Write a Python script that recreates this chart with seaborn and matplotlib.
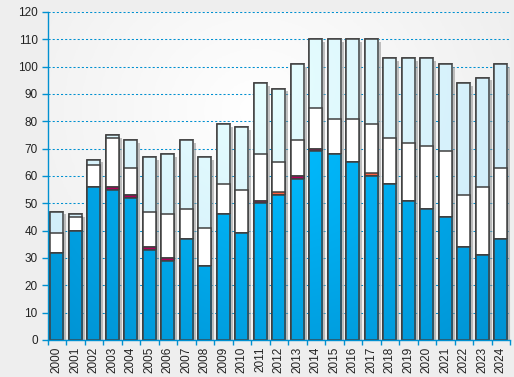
import numpy as np
import matplotlib
matplotlib.use('Agg')
import matplotlib.pyplot as plt
import matplotlib.patheffects as pe
from matplotlib.patches import Rectangle
from matplotlib.colors import to_rgb
import seaborn as sns

# data (segment heights, bottom to top)
years = [str(y) for y in range(2000, 2025)]
blue = [32, 40, 56, 55, 52, 33, 29, 37, 27, 46, 39, 50, 53, 59, 69, 68, 65, 60, 57, 51, 48, 45, 34, 31, 37]
crimson = [0, 0, 0, 1, 1, 1, 1, 0, 0, 0, 0, 1, 0, 1, 1, 0, 0, 0, 0, 0, 0, 0, 0, 0, 0]
orange = [0, 0, 0, 0, 0, 0, 0, 0, 0, 0, 0, 0, 1, 0, 0, 0, 0, 1, 0, 0, 0, 0, 0, 0, 0]
white = [7, 5, 8, 18, 10, 13, 16, 11, 14, 11, 16, 17, 11, 13, 15, 13, 16, 18, 17, 21, 23, 24, 19, 25, 26]
cyan = [8, 1, 2, 1, 10, 20, 22, 25, 26, 22, 23, 26, 27, 28, 25, 29, 29, 31, 29, 31, 32, 32, 41, 40, 38]

sns.set_style('white')
plt.rcParams['font.family'] = ['Liberation Sans', 'DejaVu Sans']

BLUE_LINE = '#0090d0'
EDGE = '#404040'

# cumulative tops, drawn from the tallest down so they overlap into stacks
c1 = np.array(blue)
c2 = c1 + np.array(crimson)
c3 = c2 + np.array(orange)
c4 = c3 + np.array(white)
c5 = c4 + np.array(cyan)

fig = plt.figure(figsize=(5.14, 3.77), dpi=100, facecolor='#eeeeee')
ax = fig.add_axes([47.5 / 514, 1 - 340 / 377, (510 - 47.5) / 514, (340 - 12) / 377])

XLIM = (-0.5, 24.5)
YLIM = (0, 120)


def radial(center, edge, cx=0.45, cy=0.8, sx=0.8, sy=1.15, n=120):
    u, v = np.meshgrid(np.linspace(0, 1, n), np.linspace(0, 1, n))
    t = np.clip(np.sqrt(((u - cx) / sx) ** 2 + ((v - cy) / sy) ** 2), 0, 1)[..., None]
    return np.array(to_rgb(center)) * (1 - t) + np.array(to_rgb(edge)) * t


# plot area background
ax.imshow(radial('#ffffff', '#eaeaea', cx=0.45, cy=0.7, sx=0.8, sy=1.0),
          extent=(*XLIM, *YLIM), origin='lower', aspect='auto', zorder=0)

layers = [
    (c5, '#e0ffff', 2, radial('#e8ffff', '#c8e6f8')),
    (c4, 'white', 3, None),
    (c3, '#ff6040', 4, None),
    (c2, '#b0005a', 5, None),
    (c1, '#00a8f0', 6, radial('#00bcff', '#008ccc', cx=0.5, cy=0.6, sx=0.8, sy=1.0)),
]

for vals, col, z, grad in layers:
    n0 = len(ax.patches)
    sns.barplot(x=years, y=vals, color=col, width=0.72, edgecolor=EDGE,
                linewidth=1.1, errorbar=None, zorder=z, ax=ax)
    patches = ax.patches[n0:]
    for p in patches:
        p.set_facecolor(col)
        if z == 2:
            p.set_path_effects([pe.SimplePatchShadow(offset=(2.0, -2.0),
                                                     shadow_rgbFace='#909090', alpha=0.55),
                                pe.Normal()])
        if grad is not None:
            im = ax.imshow(grad, extent=(*XLIM, *YLIM), origin='lower',
                           aspect='auto', zorder=z + 0.01, interpolation='bilinear')
            im.set_clip_path(p)
            ax.add_patch(Rectangle(p.get_xy(), p.get_width(), p.get_height(),
                                   facecolor='none', edgecolor=EDGE, linewidth=1.1,
                                   zorder=z + 0.02))

ax.set_xlim(*XLIM)
ax.set_ylim(*YLIM)
ax.set_yticks(np.arange(0, 121, 10))
ax.set_xticks(np.arange(len(years)))
ax.set_xticklabels(years, rotation=90)
ax.set_xticks(np.arange(-0.5, len(years), 1), minor=True)
ax.set_xlabel('')
ax.set_ylabel('')

ax.set_axisbelow(True)
ax.grid(axis='y', color=BLUE_LINE, linestyle=(0, (2, 2)), linewidth=0.75)
ax.grid(axis='x', visible=False)

for s in ['top', 'right']:
    ax.spines[s].set_visible(False)
for s in ['left', 'bottom']:
    ax.spines[s].set_color(BLUE_LINE)
    ax.spines[s].set_linewidth(1.0)
    ax.spines[s].set_zorder(10)

ax.tick_params(axis='y', which='major', left=True, length=4, width=1, color=BLUE_LINE,
               direction='out', pad=3, labelsize=8.5, labelcolor='#222222')
ax.tick_params(axis='x', which='major', bottom=True, length=0, pad=5,
               labelsize=8.5, labelcolor='#222222')
ax.tick_params(axis='x', which='minor', bottom=True, length=3.5, width=1,
               color=BLUE_LINE, direction='out')

fig.savefig('out.png', dpi=100, facecolor=fig.get_facecolor())
